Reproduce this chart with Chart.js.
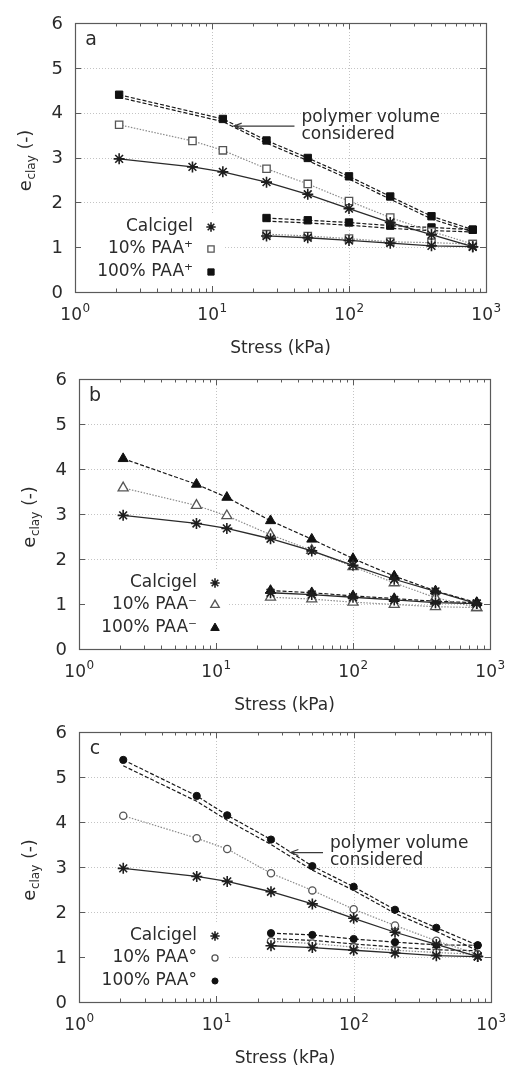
<!DOCTYPE html>
<html><head><meta charset="utf-8">
<script src="https://cdn.jsdelivr.net/npm/chart.js@4.4.0/dist/chart.umd.min.js"></script>
<style>
html,body{margin:0;padding:0;background:#fff;}
#wrap{position:relative;width:506px;height:1065px;overflow:hidden;background:#fff;}
canvas{position:absolute;left:0;}
</style></head><body>
<div id="wrap">
<canvas id="ca" width="506" height="362" style="top:0px;width:506px;height:362px"></canvas>
<canvas id="cb" width="506" height="355" style="top:362px;width:506px;height:355px"></canvas>
<canvas id="cc" width="506" height="348" style="top:717px;width:506px;height:348px"></canvas>
</div>
<script>
// ---------- data ----------
const loadStress = [2.1, 7.2, 12, 25, 50, 100, 200, 400, 800];
const unloadStress = [25, 50, 100, 200, 400, 800];
const yTickValues = [0, 1, 2, 3, 4, 5, 6];
const xDecades = [1, 10, 100, 1000];
const xDecadeExp = ['0', '1', '2', '3'];
const xAxisTitle = 'Stress (kPa)';
const yAxisMain = 'e';
const yAxisSub = 'clay';
const yAxisTail = ' (-)';
const annotationText = ['polymer volume', 'considered'];

const calcigelLoad   = [2.97, 2.79, 2.68, 2.45, 2.18, 1.86, 1.55, 1.28, 1.01];
const calcigelUnload = [1.25, 1.21, 1.15, 1.09, 1.03, 1.01];

// panel a (PAA+)
const aLabels = ['Calcigel', '10% PAA\u207A', '100% PAA\u207A'];
const a10Load     = [3.73, 3.37, 3.16, 2.75, 2.41, 2.03, 1.66, 1.35, 1.07];
const a10Unload   = [1.29, 1.25, 1.19, 1.12, 1.10, 1.07];
const a100Load    = [4.40, null, 3.86, 3.38, 2.99, 2.58, 2.13, 1.69, 1.39];
const a100Unload  = [1.65, 1.60, 1.55, 1.48, 1.44, 1.39];
const a100PolLoad   = [4.34, null, 3.80, 3.32, 2.93, 2.52, 2.07, 1.63, 1.34];
const a100PolUnload = [1.58, 1.54, 1.49, 1.42, 1.37, 1.34];

// panel b (PAA-)
const bLabels = ['Calcigel', '10% PAA\u207B', '100% PAA\u207B'];
const b10Load    = [3.58, 3.19, 2.96, 2.54, 2.19, 1.83, 1.47, 1.14, 0.92];
const b10Unload  = [1.15, 1.11, 1.04, 0.99, 0.94, 0.92];
const b100Load   = [4.23, 3.66, 3.37, 2.85, 2.44, 2.01, 1.62, 1.29, 1.03];
const b100Unload = [1.30, 1.25, 1.18, 1.12, 1.06, 1.03];

// panel c (PAA°)
const cLabels = ['Calcigel', '10% PAA\u00B0', '100% PAA\u00B0'];
const c10Load    = [4.14, 3.64, 3.40, 2.86, 2.48, 2.06, 1.70, 1.36, 1.06];
const c10Unload  = [1.35, 1.30, 1.22, 1.15, 1.10, 1.06];
const c100Load   = [5.38, 4.58, 4.15, 3.61, 3.02, 2.56, 2.05, 1.65, 1.26];
const c100Unload = [1.53, 1.49, 1.40, 1.33, 1.27, 1.26];
const c100PolLoad   = [5.25, 4.46, 4.04, 3.50, 2.93, 2.48, 1.97, 1.57, 1.14];
const c100PolUnload = [1.41, 1.37, 1.29, 1.22, 1.16, 1.14];

// ---------- helpers ----------
const FONT = '"DejaVu Sans", sans-serif';
const TXT = '#2b2b2b';
function pts(xs, ys) {
  const out = [];
  xs.forEach((x, i) => { if (ys[i] !== null && ys[i] !== undefined) out.push({x: x, y: ys[i]}); });
  return out;
}
const STYLE = {
  cal:  {borderColor: '#2a2a2a', borderWidth: 1.3, borderDash: [], pointBorderColor: '#1e1e1e', pointBackgroundColor: '#1e1e1e', pointBorderWidth: 1.6},
  p10:  {borderColor: '#8a8a8a', borderWidth: 1.2, borderDash: [1.5, 1.5], pointBorderColor: '#555', pointBackgroundColor: '#fff', pointBorderWidth: 1.3},
  p100: {borderColor: '#1a1a1a', borderWidth: 1.2, borderDash: [4, 2], pointBorderColor: '#111', pointBackgroundColor: '#111', pointBorderWidth: 1},
};
function ds(label, data, style, pointStyle, radius, legendRow) {
  return Object.assign({
    label: label, data: data, showLine: true, fill: false, tension: 0,
    pointStyle: pointStyle || 'circle', pointRadius: pointStyle ? radius : 0,
    pointHoverRadius: pointStyle ? radius : 0, legendRow: legendRow
  }, style);
}

function drawMarker(ctx, style, r, x, y, s) {
  ctx.save();
  ctx.setLineDash([]);
  ctx.lineWidth = s.pointBorderWidth;
  ctx.strokeStyle = s.pointBorderColor;
  ctx.fillStyle = s.pointBackgroundColor;
  ctx.beginPath();
  if (style === 'star') {
    const d = r * Math.SQRT1_2;
    ctx.moveTo(x - r, y); ctx.lineTo(x + r, y);
    ctx.moveTo(x, y - r); ctx.lineTo(x, y + r);
    ctx.moveTo(x - d, y - d); ctx.lineTo(x + d, y + d);
    ctx.moveTo(x - d, y + d); ctx.lineTo(x + d, y - d);
    ctx.stroke();
  } else if (style === 'rect') {
    const h = r * Math.SQRT1_2;
    ctx.rect(x - h, y - h, 2 * h, 2 * h); ctx.fill(); ctx.stroke();
  } else if (style === 'triangle') {
    ctx.moveTo(x - Math.sin(Math.PI/3) * r, y + r / 2);
    ctx.lineTo(x + Math.sin(Math.PI/3) * r, y + r / 2);
    ctx.lineTo(x, y - r); ctx.closePath(); ctx.fill(); ctx.stroke();
  } else {
    ctx.arc(x, y, r, 0, Math.PI * 2); ctx.fill(); ctx.stroke();
  }
  ctx.restore();
}

const gnuplotPlugin = {
  id: 'gnuplot',
  beforeDatasetsDraw(chart, args, o) {
    const {ctx, chartArea: ca, scales: {x, y}} = chart;
    ctx.save();
    ctx.strokeStyle = '#c4c4c4'; ctx.lineWidth = 1; ctx.setLineDash([1, 2]);
    yTickValues.slice(1, -1).forEach(v => {
      const py = Math.round(y.getPixelForValue(v)) + 0.5;
      ctx.beginPath(); ctx.moveTo(ca.left, py); ctx.lineTo(ca.right, py); ctx.stroke();
    });
    xDecades.slice(1, -1).forEach(v => {
      const px = Math.round(x.getPixelForValue(v)) + 0.5;
      ctx.beginPath(); ctx.moveTo(px, ca.top); ctx.lineTo(px, ca.bottom); ctx.stroke();
    });
    // legend background (key box masks grid)
    ctx.fillStyle = '#fff';
    ctx.fillRect(ca.left + 6, ca.top + 190, 142, 72);
    ctx.restore();
  },
  afterDatasetsDraw(chart, args, o) {
    const {ctx, chartArea: ca, scales: {x, y}} = chart;
    ctx.save();
    ctx.setLineDash([]);
    // border
    ctx.strokeStyle = '#5a5a5a'; ctx.lineWidth = 1.2;
    ctx.strokeRect(Math.round(ca.left) + 0.5, Math.round(ca.top) + 0.5, Math.round(ca.right - ca.left), Math.round(ca.bottom - ca.top));
    // ticks (inward, mirrored)
    ctx.lineWidth = 1;
    ctx.beginPath();
    yTickValues.forEach(v => {
      const py = Math.round(y.getPixelForValue(v)) + 0.5;
      ctx.moveTo(ca.left, py); ctx.lineTo(ca.left + 6, py);
      ctx.moveTo(ca.right, py); ctx.lineTo(ca.right - 6, py);
    });
    for (let d = 0; d < 3; d++) {
      for (let m = 1; m <= 9; m++) {
        const v = xDecades[d] * m;
        const px = Math.round(x.getPixelForValue(v)) + 0.5;
        const len = m === 1 ? 6 : 3.5;
        ctx.moveTo(px, ca.bottom); ctx.lineTo(px, ca.bottom - len);
        ctx.moveTo(px, ca.top); ctx.lineTo(px, ca.top + len);
      }
    }
    ctx.stroke();
    // y tick labels
    ctx.fillStyle = TXT;
    ctx.font = '18px ' + FONT;
    ctx.textAlign = 'right'; ctx.textBaseline = 'middle';
    yTickValues.forEach(v => ctx.fillText(String(v), ca.left - 12, y.getPixelForValue(v) + 1));
    // x tick labels 10^n
    xDecades.forEach((v, i) => {
      const px = x.getPixelForValue(v);
      ctx.font = '17px ' + FONT;
      const w1 = ctx.measureText('10').width;
      ctx.font = '12px ' + FONT;
      const w2 = ctx.measureText(xDecadeExp[i]).width;
      const x0 = px - (w1 + w2) / 2;
      ctx.textAlign = 'left'; ctx.textBaseline = 'alphabetic';
      ctx.font = '17px ' + FONT;
      ctx.fillText('10', x0, ca.bottom + 28);
      ctx.font = '12px ' + FONT;
      ctx.fillText(xDecadeExp[i], x0 + w1 + 0.5, ca.bottom + 20);
    });
    // x title
    ctx.font = '17px ' + FONT; ctx.textAlign = 'center'; ctx.textBaseline = 'middle';
    ctx.fillText(xAxisTitle, (ca.left + ca.right) / 2, ca.bottom + 57);
    // y title (rotated, with subscript)
    ctx.save();
    ctx.translate(ca.left - 50, (ca.top + ca.bottom) / 2 + 3);
    ctx.rotate(-Math.PI / 2);
    ctx.font = '18px ' + FONT; const we = ctx.measureText(yAxisMain).width;
    ctx.font = '12px ' + FONT; const ws = ctx.measureText(yAxisSub).width;
    ctx.font = '17px ' + FONT; const wt = ctx.measureText(yAxisTail).width;
    let sx = -(we + ws + wt + 1) / 2;
    ctx.textAlign = 'left'; ctx.textBaseline = 'alphabetic';
    ctx.font = '18px ' + FONT; ctx.fillText(yAxisMain, sx, 6); sx += we + 0.5;
    ctx.font = '12px ' + FONT; ctx.fillText(yAxisSub, sx, 10); sx += ws + 0.5;
    ctx.font = '17px ' + FONT; ctx.fillText(yAxisTail, sx, 6);
    ctx.restore();
    // panel letter
    ctx.font = '19px ' + FONT; ctx.textAlign = 'center'; ctx.textBaseline = 'middle';
    ctx.fillText(o.letter, ca.left + 16, ca.top + 17);
    // legend
    const rowsY = [204, 226, 249];
    chart.data.datasets.forEach(d => {
      if (d.legendRow === undefined) return;
      const ry = ca.top + rowsY[d.legendRow];
      ctx.fillStyle = TXT; ctx.font = '17px ' + FONT;
      ctx.textAlign = 'right'; ctx.textBaseline = 'middle';
      ctx.fillText(d.label, ca.left + 118, ry);
      drawMarker(ctx, d.pointStyle, d.pointRadius * 0.85, ca.left + 136, ry, d);
    });
    // annotation arrow
    if (o.arrow) {
      const tx = x.getPixelForValue(o.arrow.tip[0]), ty = y.getPixelForValue(o.arrow.tip[1]);
      const ex = x.getPixelForValue(o.arrow.tailX);
      ctx.strokeStyle = '#3a3a3a'; ctx.lineWidth = 1.1;
      ctx.beginPath();
      ctx.moveTo(ex, ty); ctx.lineTo(tx, ty);
      ctx.moveTo(tx + 8, ty - 3); ctx.lineTo(tx, ty); ctx.lineTo(tx + 8, ty + 3);
      ctx.stroke();
      ctx.fillStyle = TXT; ctx.font = '17px ' + FONT;
      ctx.textAlign = 'left'; ctx.textBaseline = 'middle';
      ctx.fillText(annotationText[0], ex + 7, ty - 9);
      ctx.fillText(annotationText[1], ex + 7, ty + 8);
    }
    ctx.restore();
  }
};

function makeChart(id, pad, datasets, opts) {
  return new Chart(document.getElementById(id), {
    type: 'scatter',
    data: {datasets: datasets},
    options: {
      responsive: false, animation: false, devicePixelRatio: 1,
      layout: {padding: pad},
      plugins: {legend: {display: false}, tooltip: {enabled: false}, gnuplot: opts},
      scales: {
        x: {type: 'logarithmic', min: 1, max: 1000, display: false},
        y: {type: 'linear', min: 0, max: 6, display: false}
      }
    },
    plugins: [gnuplotPlugin]
  });
}

// panel a
makeChart('ca', {left: 75, right: 20, top: 23, bottom: 70}, [
  ds(aLabels[0], pts(loadStress, calcigelLoad), STYLE.cal, 'star', 5.5, 0),
  ds(aLabels[0], pts(unloadStress, calcigelUnload), STYLE.cal, 'star', 5.5),
  ds(aLabels[1], pts(loadStress, a10Load), STYLE.p10, 'rect', 5.2, 1),
  ds(aLabels[1], pts(unloadStress, a10Unload), STYLE.p10, 'rect', 5.2),
  ds(aLabels[2], pts(loadStress, a100Load), STYLE.p100, 'rect', 5.2, 2),
  ds(aLabels[2], pts(unloadStress, a100Unload), STYLE.p100, 'rect', 5.2),
  ds('polymer volume considered', pts(loadStress, a100PolLoad), STYLE.p100, null, 0),
  ds('polymer volume considered', pts(unloadStress, a100PolUnload), STYLE.p100, null, 0),
], {letter: 'a', arrow: {tip: [14.4, 3.70], tailX: 40}});

// panel b
makeChart('cb', {left: 79, right: 16, top: 17, bottom: 68}, [
  ds(bLabels[0], pts(loadStress, calcigelLoad), STYLE.cal, 'star', 5.5, 0),
  ds(bLabels[0], pts(unloadStress, calcigelUnload), STYLE.cal, 'star', 5.5),
  ds(bLabels[1], pts(loadStress, b10Load), STYLE.p10, 'triangle', 5.8, 1),
  ds(bLabels[1], pts(unloadStress, b10Unload), STYLE.p10, 'triangle', 5.8),
  ds(bLabels[2], pts(loadStress, b100Load), STYLE.p100, 'triangle', 5.8, 2),
  ds(bLabels[2], pts(unloadStress, b100Unload), STYLE.p100, 'triangle', 5.8),
], {letter: 'b'});

// panel c
makeChart('cc', {left: 79, right: 15, top: 15, bottom: 63}, [
  ds(cLabels[0], pts(loadStress, calcigelLoad), STYLE.cal, 'star', 5.5, 0),
  ds(cLabels[0], pts(unloadStress, calcigelUnload), STYLE.cal, 'star', 5.5),
  ds(cLabels[1], pts(loadStress, c10Load), STYLE.p10, 'circle', 3.6, 1),
  ds(cLabels[1], pts(unloadStress, c10Unload), STYLE.p10, 'circle', 3.6),
  ds(cLabels[2], pts(loadStress, c100Load), STYLE.p100, 'circle', 3.6, 2),
  ds(cLabels[2], pts(unloadStress, c100Unload), STYLE.p100, 'circle', 3.6),
  ds('polymer volume considered', pts(loadStress, c100PolLoad), STYLE.p100, null, 0),
  ds('polymer volume considered', pts(unloadStress, c100PolUnload), STYLE.p100, null, 0),
], {letter: 'c', arrow: {tip: [34.6, 3.32], tailX: 59.8}});
</script>
</body></html>
